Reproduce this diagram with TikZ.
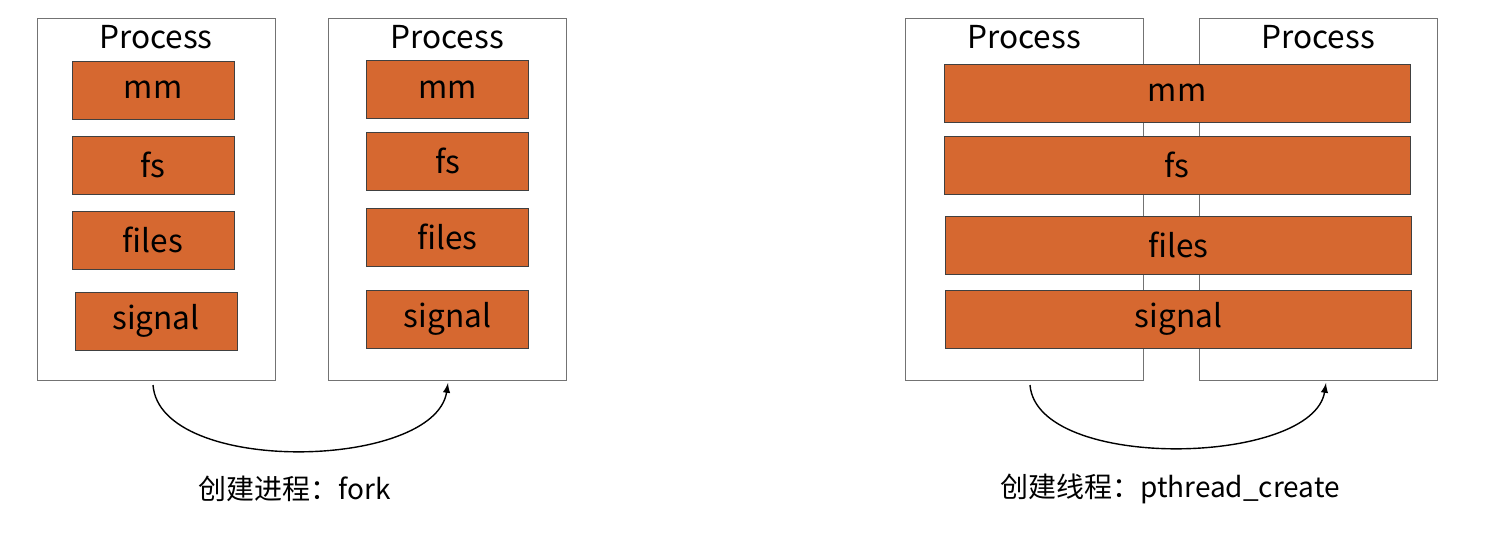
\documentclass[tikz,border=0pt]{standalone}
\usepackage{fontspec}
\setmainfont{Noto Sans CJK SC}
\usetikzlibrary{arrows,positioning}
\definecolor{taskorange}{RGB}{214,104,48}
\tikzset{
    proc box/.style={rectangle, draw=black!55, line width=0.5pt, minimum width=119pt, minimum height=181pt, inner sep=0pt},
    proc title/.style={font=\fontsize{15.8}{18}\selectfont, inner sep=0pt},
    raw res entry/.style={rectangle, draw=black!75, line width=0.5pt, fill=taskorange, inner sep=0pt, minimum height=29pt, font=\fontsize{15.8}{18}\selectfont},
    res entry/.style={raw res entry, minimum width=81pt},
    shared entry/.style={raw res entry, minimum width=233pt},
    caption/.style={font=\fontsize{14}{16}\selectfont, inner sep=0pt}
}

\begin{document}
\begin{tikzpicture}[x=0.5pt,y=-0.5pt,>=latex]
    \useasboundingbox (0,0) rectangle (1500,546);
    % fork
    \node[proc box] (parent) at (156,199) {};
    \node[proc box] (child) at (447.5,199) {};
    \node[proc title] (parent title) at (156,37) {Process};
    \node[proc title] (child title) at (447,37) {Process};
    \node[res entry] (p mm) at (153,90) {mm};
    \node[res entry] (p fs) at (153,165) {fs};
    \node[res entry] (p files) at (153,240) {files};
    \node[res entry] (p signal) at (156,321) {signal};
    \node[res entry] (c mm) at (447.5,89.5) {mm};
    \node[res entry] (c fs) at (447.5,161) {fs};
    \node[res entry] (c files) at (447.5,237) {files};
    \node[res entry] (c signal) at (447.5,319) {signal};
    \coordinate (fork from) at (153,385);
    \coordinate (fork to) at (448,383);
    \draw[->, line width=0.7pt] (fork from) .. controls (160,476) and (435,470) .. (fork to);
    \node[caption] (fork label) at (295,489) {创建进程：fork};
    % pthread_create
    \node[proc box] (main) at (1024,199) {};
    \node[proc box] (thread) at (1318.5,199) {};
    \node[proc title] (main title) at (1024,37) {Process};
    \node[proc title] (thread title) at (1318,37) {Process};
    \node[shared entry] (s mm) at (1177,93) {mm};
    \node[shared entry] (s fs) at (1177,165) {fs};
    \node[shared entry] (s files) at (1178.5,245) {files};
    \node[shared entry] (s signal) at (1178.5,319) {signal};
    \coordinate (thread from) at (1030,385);
    \coordinate (thread to) at (1326,383);
    \draw[->, line width=0.7pt] (thread from) .. controls (1037,472) and (1313,466) .. (thread to);
    \node[caption] (thread label) at (1170,489) {创建线程：pthread\_create};
\end{tikzpicture}
\end{document}
